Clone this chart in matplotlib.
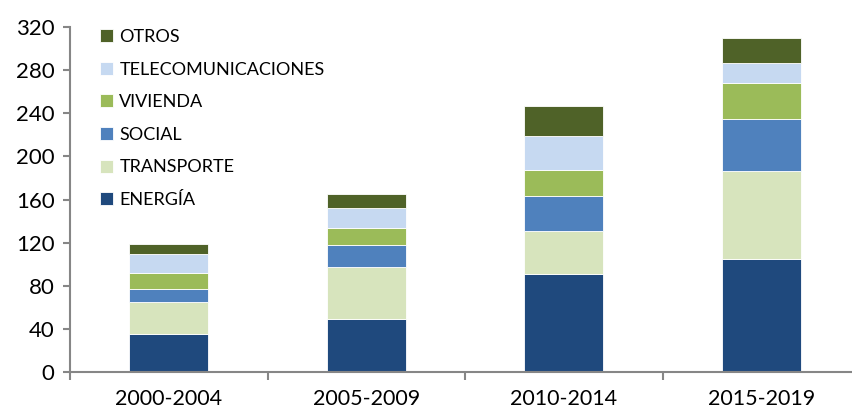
import matplotlib
matplotlib.use("Agg")
import matplotlib.pyplot as plt
import numpy as np

categories = ["2000-2004", "2005-2009", "2010-2014", "2015-2019"]
energia = [35, 49.5, 90.5, 104.5]
transporte = [29.5, 48, 40.5, 82]
social = [12.5, 20, 32, 48.5]
vivienda = [15, 16.5, 24, 33]
telecom = [17.5, 18, 32, 19]
otros = [9.5, 13, 28, 23]

series = [
    ("ENERGÍA", energia, "#1F497D"),
    ("TRANSPORTE", transporte, "#D7E4BD"),
    ("SOCIAL", social, "#4F81BD"),
    ("VIVIENDA", vivienda, "#9BBB59"),
    ("TELECOMUNICACIONES", telecom, "#C6D9F1"),
    ("OTROS", otros, "#4F6228"),
]

plt.rcParams['font.family'] = ['Lato', 'DejaVu Sans']

fig = plt.figure(figsize=(8.53, 4.12), dpi=100)
ax = fig.add_axes([70/853, 1-372/412, 790/853, 345/412])

x = np.arange(len(categories))
bottom = np.zeros(len(categories))
handles = []
for name, vals, col in series:
    b = ax.bar(x, vals, 0.4, bottom=bottom, color=col, label=name,
               edgecolor="white", linewidth=0.6)
    handles.append(b)
    bottom += np.array(vals)

ax.set_xlim(-0.5, 3.5)
ax.set_ylim(0, 320)
ax.set_yticks(np.arange(0, 321, 40))
ax.tick_params(axis='y', labelsize=16, length=5, width=1.5, color="#868686", pad=6, labelcolor="#000000")

ax.set_xticks(x)
ax.set_xticklabels(categories)
ax.set_xticks(np.arange(-0.5, 3.0, 1.0), minor=True)
ax.tick_params(axis='x', which='major', length=0, labelsize=15.5, pad=12)
ax.tick_params(axis='x', which='minor', length=6, width=1.5, color="#868686")

for s in ["top", "right"]:
    ax.spines[s].set_visible(False)
for s in ["left", "bottom"]:
    ax.spines[s].set_color("#868686")
    ax.spines[s].set_linewidth(1.5)

leg = ax.legend(handles[::-1], [s[0] for s in series][::-1],
                loc="upper left", bbox_to_anchor=(100/853, 1-29/412),
                bbox_transform=fig.transFigure, frameon=False,
                fontsize=13, handlelength=0.72, handleheight=0.72,
                handletextpad=0.35, labelspacing=0.92, borderpad=0,
                borderaxespad=0)

fig.savefig("out.png", dpi=100)
